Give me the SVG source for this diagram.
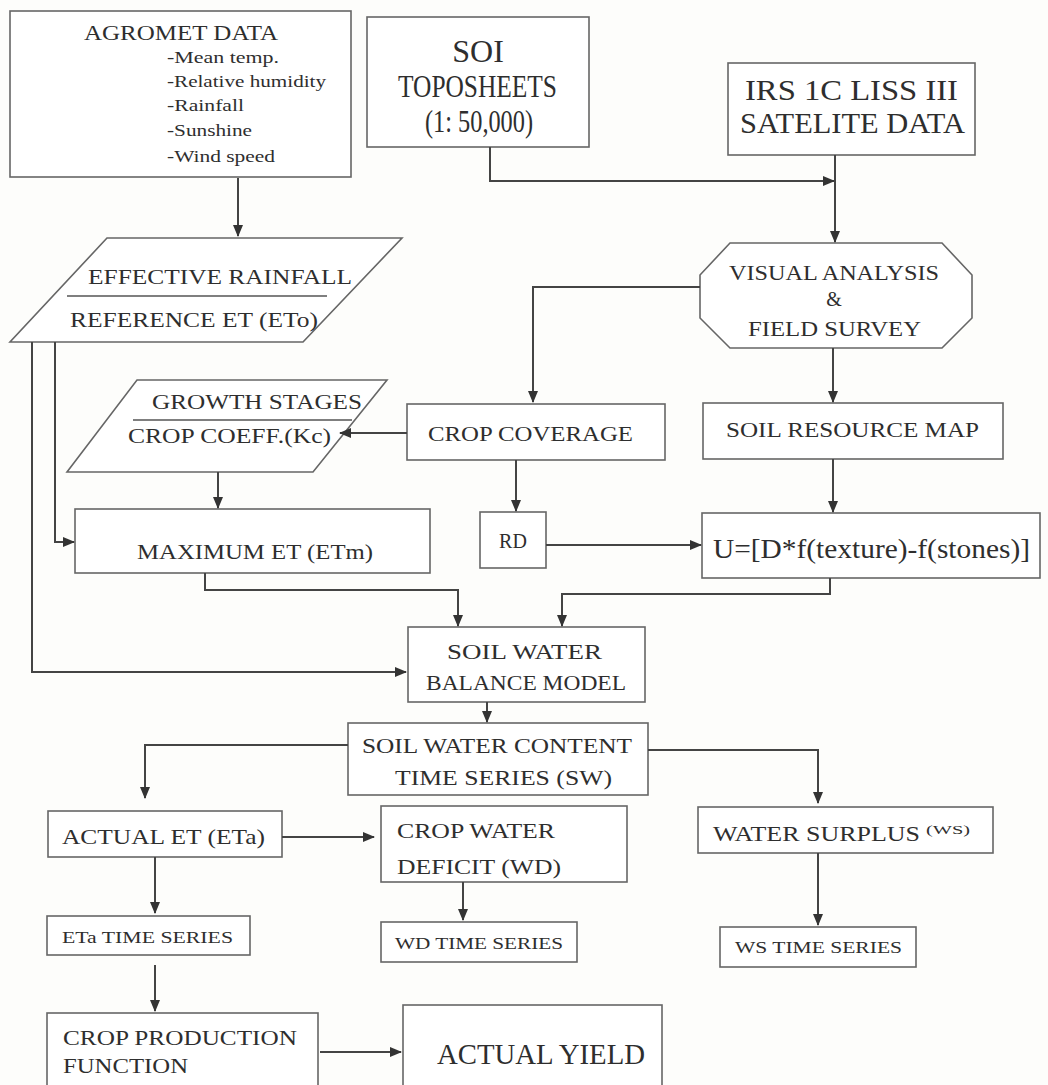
<svg xmlns="http://www.w3.org/2000/svg" width="1048" height="1085" viewBox="0 0 1048 1085" font-family="'Liberation Serif', 'Times New Roman', serif">
<defs>
<marker id="ah" markerWidth="12" markerHeight="10" refX="11" refY="5" orient="auto" markerUnits="userSpaceOnUse">
<path d="M0,0 L12,5 L0,10 Z" fill="#333"/>
</marker>
<style>
.box{fill:#fff;stroke:#666;stroke-width:1.6}
text{font-family:'Liberation Serif','Times New Roman',serif;fill:#2e2e2e}
.c{stroke:#444;stroke-width:2;fill:none}
.a{marker-end:url(#ah)}
</style>
</defs>
<rect width="1048" height="1085" fill="#fdfdfb"/>

<g id="agromet">
<rect class="box" x="10" y="11" width="341" height="166"/>
<text x="84" y="40" font-size="20" textLength="194" lengthAdjust="spacingAndGlyphs">AGROMET DATA</text>
<text x="167" y="63" font-size="16" textLength="112" lengthAdjust="spacingAndGlyphs">-Mean temp.</text>
<text x="167" y="87" font-size="16" textLength="159" lengthAdjust="spacingAndGlyphs">-Relative humidity</text>
<text x="167" y="111" font-size="16" textLength="77" lengthAdjust="spacingAndGlyphs">-Rainfall</text>
<text x="167" y="136" font-size="16" textLength="85" lengthAdjust="spacingAndGlyphs">-Sunshine</text>
<text x="167" y="162" font-size="16" textLength="108" lengthAdjust="spacingAndGlyphs">-Wind speed</text>
</g>

<g id="soi">
<rect class="box" x="367" y="17" width="222" height="130"/>
<text x="478" y="62" font-size="32" text-anchor="middle">SOI</text>
<text x="398" y="97" font-size="32" textLength="159" lengthAdjust="spacingAndGlyphs">TOPOSHEETS</text>
<text x="425" y="132" font-size="32" textLength="108" lengthAdjust="spacingAndGlyphs">(1: 50,000)</text>
</g>

<g id="irs">
<rect class="box" x="728" y="63" width="247" height="92"/>
<text x="745" y="100" font-size="30" textLength="213" lengthAdjust="spacingAndGlyphs">IRS 1C LISS III</text>
<text x="740" y="133" font-size="30" textLength="225" lengthAdjust="spacingAndGlyphs">SATELITE DATA</text>
</g>

<g id="effective">
<polygon class="box" points="107,238 402,238 303,342 10,342"/>
<text x="88" y="284" font-size="21" textLength="264" lengthAdjust="spacingAndGlyphs">EFFECTIVE RAINFALL</text>
<line x1="67" y1="296" x2="327" y2="296" stroke="#555" stroke-width="1.4"/>
<text x="70" y="327" font-size="21" textLength="248" lengthAdjust="spacingAndGlyphs">REFERENCE ET (ETo)</text>
</g>

<g id="growth">
<polygon class="box" points="137,380 387,380 313,472 67,472"/>
<text x="152" y="409" font-size="20" textLength="210" lengthAdjust="spacingAndGlyphs">GROWTH STAGES</text>
<line x1="133" y1="420" x2="352" y2="420" stroke="#555" stroke-width="1.4"/>
<text x="128" y="443" font-size="20" textLength="203" lengthAdjust="spacingAndGlyphs">CROP COEFF.(Kc)</text>
</g>

<g id="visual">
<polygon class="box" points="730,243 942,243 972,275 972,318 942,348 730,348 700,318 700,275"/>
<text x="729" y="280" font-size="20" textLength="210" lengthAdjust="spacingAndGlyphs">VISUAL ANALYSIS</text>
<text x="834" y="306" font-size="20" text-anchor="middle">&amp;</text>
<text x="748" y="336" font-size="20" textLength="173" lengthAdjust="spacingAndGlyphs">FIELD SURVEY</text>
</g>

<g id="cropcov">
<rect class="box" x="407" y="404" width="258" height="56"/>
<text x="428" y="441" font-size="22" textLength="205" lengthAdjust="spacingAndGlyphs">CROP COVERAGE</text>
</g>

<g id="soilres">
<rect class="box" x="703" y="403" width="300" height="56"/>
<text x="726" y="437" font-size="22" textLength="253" lengthAdjust="spacingAndGlyphs">SOIL RESOURCE MAP</text>
</g>

<g id="maxet">
<rect class="box" x="75" y="509" width="355" height="64"/>
<text x="137" y="559" font-size="21" textLength="236" lengthAdjust="spacingAndGlyphs">MAXIMUM ET (ETm)</text>
</g>

<g id="rd">
<rect class="box" x="480" y="512" width="66" height="56"/>
<text x="513" y="548" font-size="20" text-anchor="middle">RD</text>
</g>

<g id="u">
<rect class="box" x="702" y="513" width="338" height="65"/>
<text x="713" y="558" font-size="28" textLength="317" lengthAdjust="spacingAndGlyphs">U=[D*f(texture)-f(stones)]</text>
</g>

<g id="swb">
<rect class="box" x="408" y="627" width="237" height="75"/>
<text x="447" y="659" font-size="21" textLength="155" lengthAdjust="spacingAndGlyphs">SOIL WATER</text>
<text x="426" y="690" font-size="21" textLength="200" lengthAdjust="spacingAndGlyphs">BALANCE MODEL</text>
</g>

<g id="swc">
<rect class="box" x="348" y="723" width="300" height="72"/>
<text x="362" y="753" font-size="22" textLength="270" lengthAdjust="spacingAndGlyphs">SOIL WATER CONTENT</text>
<text x="395" y="785" font-size="22" textLength="217" lengthAdjust="spacingAndGlyphs">TIME SERIES (SW)</text>
</g>

<g id="actualet">
<rect class="box" x="48" y="811" width="234" height="46"/>
<text x="62" y="844" font-size="22" textLength="203" lengthAdjust="spacingAndGlyphs">ACTUAL ET (ETa)</text>
</g>

<g id="cwd">
<rect class="box" x="381" y="806" width="246" height="76"/>
<text x="397" y="838" font-size="22" textLength="158" lengthAdjust="spacingAndGlyphs">CROP WATER</text>
<text x="397" y="874" font-size="22" textLength="164" lengthAdjust="spacingAndGlyphs">DEFICIT (WD)</text>
</g>

<g id="ws">
<rect class="box" x="698" y="807" width="295" height="46"/>
<text x="713" y="841" font-size="21" textLength="207" lengthAdjust="spacingAndGlyphs">WATER SURPLUS</text>
<text x="926" y="834" font-size="12" textLength="44" lengthAdjust="spacingAndGlyphs">(WS)</text>
</g>

<g id="etats">
<rect class="box" x="47" y="916" width="203" height="39"/>
<text x="62" y="943" font-size="17" textLength="171" lengthAdjust="spacingAndGlyphs">ETa TIME SERIES</text>
</g>

<g id="wdts">
<rect class="box" x="381" y="922" width="196" height="40"/>
<text x="395" y="949" font-size="17" textLength="168" lengthAdjust="spacingAndGlyphs">WD TIME SERIES</text>
</g>

<g id="wsts">
<rect class="box" x="720" y="927" width="196" height="40"/>
<text x="735" y="953" font-size="17" textLength="167" lengthAdjust="spacingAndGlyphs">WS TIME SERIES</text>
</g>

<g id="cpf">
<rect class="box" x="47" y="1013" width="271" height="80"/>
<text x="63" y="1045" font-size="22" textLength="234" lengthAdjust="spacingAndGlyphs">CROP PRODUCTION</text>
<text x="63" y="1073" font-size="22" textLength="125" lengthAdjust="spacingAndGlyphs">FUNCTION</text>
</g>

<g id="yield">
<rect class="box" x="403" y="1005" width="259" height="90"/>
<text x="437" y="1064" font-size="30" textLength="208" lengthAdjust="spacingAndGlyphs">ACTUAL YIELD</text>
</g>

<g id="connectors">
<path class="c a" d="M238,178 V236"/>
<path class="c a" d="M490,147 V181 H834"/>
<path class="c a" d="M835,155 V242"/>
<path class="c a" d="M700,287 H533 V402"/>
<path class="c a" d="M833,348 V402"/>
<path class="c a" d="M407,433 H340"/>
<path class="c a" d="M218,472 V508"/>
<path class="c a" d="M55,342 V542 H74"/>
<path class="c a" d="M32,342 V672 H406"/>
<path class="c a" d="M516,460 V511"/>
<path class="c a" d="M833,459 V512"/>
<path class="c a" d="M546,545 H701"/>
<path class="c a" d="M205,573 V590 H458 V626"/>
<path class="c a" d="M830,578 V594 H562 V626"/>
<path class="c a" d="M487,702 V722"/>
<path class="c a" d="M348,745 H145 V798"/>
<path class="c a" d="M648,750 H818 V803"/>
<path class="c a" d="M282,837 H374"/>
<path class="c a" d="M155,857 V913"/>
<path class="c a" d="M463,882 V920"/>
<path class="c a" d="M818,853 V925"/>
<path class="c a" d="M155,965 V1011"/>
<path class="c a" d="M320,1052 H401"/>
</g>
</svg>
